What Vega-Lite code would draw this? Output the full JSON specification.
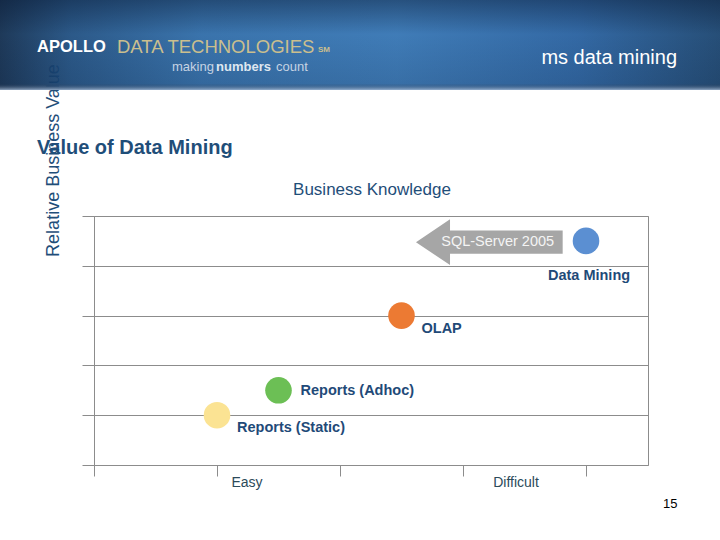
{
  "$schema": "https://vega.github.io/schema/vega-lite/v6.json",
  "width": 554,
  "height": 249,
  "autosize": {"type": "none"},
  "padding": {"left": 94, "top": 216, "right": 72, "bottom": 75},
  "background": "#ffffff",
  "config": {
    "font": "Liberation Sans",
    "view": {"stroke": "#8c8c8c", "strokeWidth": 1}
  },
  "datasets": {
    "points": [
      {"item": "Reports (Static)", "difficulty": 1.0, "value": 1.0},
      {"item": "Reports (Adhoc)", "difficulty": 1.5, "value": 1.5},
      {"item": "OLAP", "difficulty": 2.5, "value": 3.0},
      {"item": "Data Mining", "difficulty": 4.0, "value": 4.5}
    ]
  },
  "layer": [
    {
      "data": {"name": "points"},
      "mark": {"type": "point", "filled": true, "opacity": 1, "size": 707, "shape": "circle"},
      "encoding": {
        "x": {
          "field": "difficulty", "type": "quantitative",
          "scale": {"domain": [0, 4.504], "nice": false, "zero": false},
          "axis": {"values": [0, 1, 2, 3, 4], "labels": false, "ticks": true, "tickSize": 11, "tickColor": "#8c8c8c", "domain": false, "grid": false, "title": null}
        },
        "y": {
          "field": "value", "type": "quantitative",
          "scale": {"domain": [0, 5], "nice": false, "zero": false},
          "axis": {"values": [0, 1, 2, 3, 4, 5], "labels": false, "ticks": true, "tickSize": 12, "tickColor": "#8c8c8c", "grid": true, "gridColor": "#8c8c8c", "gridOpacity": 1, "domain": true, "domainColor": "#8c8c8c",
            "title": "Relative Business Value", "titleX": -36, "titleY": -56, "titleAngle": 270, "titleAlign": "center", "titleBaseline": "alphabetic", "titleFontSize": 18, "titleFontWeight": "normal", "titleColor": "#1f4e79", "titleFont": "Liberation Sans"}
        },
        "color": {
          "field": "item", "type": "nominal", "legend": null,
          "scale": {"domain": ["Reports (Static)", "Reports (Adhoc)", "OLAP", "Data Mining"], "range": ["#fbe393", "#6cbf55", "#ec7a33", "#5b8fd2"]}
        }
      }
    },
    {
      "data": {"name": "points"},
      "transform": [{"filter": "datum.item === 'Reports (Static)' || datum.item === 'OLAP'"}],
      "mark": {"type": "text", "align": "left", "baseline": "middle", "dx": 20, "dy": 13, "fontSize": 14.5, "fontWeight": "bold", "color": "#1f4a78"},
      "encoding": {"x": {"field": "difficulty", "type": "quantitative"}, "y": {"field": "value", "type": "quantitative"}, "text": {"field": "item"}}
    },
    {
      "data": {"name": "points"},
      "transform": [{"filter": "datum.item === 'Reports (Adhoc)'"}],
      "mark": {"type": "text", "align": "left", "baseline": "middle", "dx": 22, "dy": 1, "fontSize": 14.5, "fontWeight": "bold", "color": "#1f4a78"},
      "encoding": {"x": {"field": "difficulty", "type": "quantitative"}, "y": {"field": "value", "type": "quantitative"}, "text": {"field": "item"}}
    },
    {
      "data": {"name": "points"},
      "transform": [{"filter": "datum.item === 'Data Mining'"}],
      "mark": {"type": "text", "align": "center", "baseline": "middle", "dx": 3, "dy": 35, "fontSize": 14.5, "fontWeight": "bold", "color": "#1f4a78"},
      "encoding": {"x": {"field": "difficulty", "type": "quantitative"}, "y": {"field": "value", "type": "quantitative"}, "text": {"field": "item"}}
    },
    {
      "data": {"values": [{"note": "arrow"}]},
      "mark": {"type": "point", "filled": true, "opacity": 1, "color": "#a6a6a6", "size": 21520,
        "shape": "M-1,0L-0.536,-0.312L-0.536,-0.159L1,-0.159L1,0.159L-0.536,0.159L-0.536,0.312Z"},
      "encoding": {"x": {"datum": 3.214, "type": "quantitative"}, "y": {"datum": 4.474, "type": "quantitative"}}
    },
    {
      "data": {"values": [{"text": "SQL-Server 2005"}]},
      "mark": {"type": "text", "align": "center", "baseline": "middle", "fontSize": 14.5, "color": "#f4f4f4"},
      "encoding": {"x": {"datum": 3.282, "type": "quantitative"}, "y": {"datum": 4.484, "type": "quantitative"}, "text": {"field": "text"}}
    },
    {
      "data": {"values": [{"text": "Easy"}]},
      "mark": {"type": "text", "align": "center", "baseline": "middle", "fontSize": 14, "color": "#2c4a5a"},
      "encoding": {"x": {"datum": 1.244, "type": "quantitative"}, "y": {"datum": -0.361, "type": "quantitative"}, "text": {"field": "text"}}
    },
    {
      "data": {"values": [{"text": "Difficult"}]},
      "mark": {"type": "text", "align": "center", "baseline": "middle", "fontSize": 14, "color": "#2c4a5a"},
      "encoding": {"x": {"datum": 3.431, "type": "quantitative"}, "y": {"datum": -0.361, "type": "quantitative"}, "text": {"field": "text"}}
    },
    {
      "data": {"values": [{"text": "Business Knowledge"}]},
      "mark": {"type": "text", "align": "center", "baseline": "middle", "fontSize": 17, "color": "#1f4e79"},
      "encoding": {"x": {"datum": 2.26, "type": "quantitative"}, "y": {"datum": 5.522, "type": "quantitative"}, "text": {"field": "text"}}
    },
    {
      "data": {"values": [{"text": "Value of Data Mining"}]},
      "mark": {"type": "text", "align": "left", "baseline": "middle", "fontSize": 20, "fontWeight": "bold", "color": "#1f4e79"},
      "encoding": {"x": {"datum": -0.463, "type": "quantitative"}, "y": {"datum": 6.37, "type": "quantitative"}, "text": {"field": "text"}}
    },
    {
      "data": {"values": [{"text": "15"}]},
      "mark": {"type": "text", "align": "left", "baseline": "middle", "fontSize": 13, "color": "#000000"},
      "encoding": {"x": {"datum": 4.626, "type": "quantitative"}, "y": {"datum": -0.783, "type": "quantitative"}, "text": {"field": "text"}}
    },
    {
      "data": {"values": [{"part": "banner"}]},
      "mark": {"type": "rect", "opacity": 0.93,
        "fill": {"gradient": "linear", "x1": 0, "y1": 0, "x2": 1, "y2": 0,
          "stops": [
            {"offset": 0, "color": "#0d2a4c"},
            {"offset": 0.1, "color": "#1c4d80"},
            {"offset": 0.28, "color": "#2b69a6"},
            {"offset": 0.55, "color": "#3172b2"},
            {"offset": 0.8, "color": "#245e9e"},
            {"offset": 1, "color": "#16416d"}
          ]}},
      "encoding": {"x": {"datum": -0.77, "type": "quantitative"}, "x2": {"datum": 5.1}, "y": {"datum": 9.4, "type": "quantitative"}, "y2": {"datum": 7.53}}
    },
    {
      "data": {"values": [{"part": "banner shade"}]},
      "mark": {"type": "rect",
        "fill": {"gradient": "linear", "x1": 0, "y1": 0, "x2": 0, "y2": 1,
          "stops": [
            {"offset": 0, "color": "rgba(5,20,45,0.45)"},
            {"offset": 0.4, "color": "rgba(5,20,45,0.0)"},
            {"offset": 0.93, "color": "rgba(5,20,45,0.12)"},
            {"offset": 1, "color": "rgba(170,190,215,0.8)"}
          ]}},
      "encoding": {"x": {"datum": -0.77, "type": "quantitative"}, "x2": {"datum": 5.1}, "y": {"datum": 9.4, "type": "quantitative"}, "y2": {"datum": 7.53}}
    },
    {
      "data": {"values": [{"text": "APOLLO"}]},
      "mark": {"type": "text", "align": "left", "baseline": "middle", "fontSize": 16.5, "fontWeight": "bold", "color": "#ffffff"},
      "encoding": {"x": {"datum": -0.463, "type": "quantitative"}, "y": {"datum": 8.394, "type": "quantitative"}, "text": {"field": "text"}}
    },
    {
      "data": {"values": [{"text": "DATA TECHNOLOGIES"}]},
      "mark": {"type": "text", "align": "left", "baseline": "middle", "fontSize": 18.5, "color": "#cbbf8e"},
      "encoding": {"x": {"datum": 0.187, "type": "quantitative"}, "y": {"datum": 8.394, "type": "quantitative"}, "text": {"field": "text"}}
    },
    {
      "data": {"values": [{"text": "SM"}]},
      "mark": {"type": "text", "align": "left", "baseline": "middle", "fontSize": 8, "fontWeight": "bold", "color": "#cbbf8e"},
      "encoding": {"x": {"datum": 1.821, "type": "quantitative"}, "y": {"datum": 8.33, "type": "quantitative"}, "text": {"field": "text"}}
    },
    {
      "data": {"values": [{"text": "making"}]},
      "mark": {"type": "text", "align": "left", "baseline": "middle", "fontSize": 13, "color": "#c5d3e3"},
      "encoding": {"x": {"datum": 0.634, "type": "quantitative"}, "y": {"datum": 7.992, "type": "quantitative"}, "text": {"field": "text"}}
    },
    {
      "data": {"values": [{"text": "numbers"}]},
      "mark": {"type": "text", "align": "left", "baseline": "middle", "fontSize": 13, "fontWeight": "bold", "color": "#dfe7f0"},
      "encoding": {"x": {"datum": 0.992, "type": "quantitative"}, "y": {"datum": 7.992, "type": "quantitative"}, "text": {"field": "text"}}
    },
    {
      "data": {"values": [{"text": "count"}]},
      "mark": {"type": "text", "align": "left", "baseline": "middle", "fontSize": 13, "color": "#c5d3e3"},
      "encoding": {"x": {"datum": 1.48, "type": "quantitative"}, "y": {"datum": 7.992, "type": "quantitative"}, "text": {"field": "text"}}
    },
    {
      "data": {"values": [{"text": "ms data mining"}]},
      "mark": {"type": "text", "align": "right", "baseline": "middle", "fontSize": 20, "color": "#ffffff"},
      "encoding": {"x": {"datum": 4.74, "type": "quantitative"}, "y": {"datum": 8.173, "type": "quantitative"}, "text": {"field": "text"}}
    }
  ]
}
